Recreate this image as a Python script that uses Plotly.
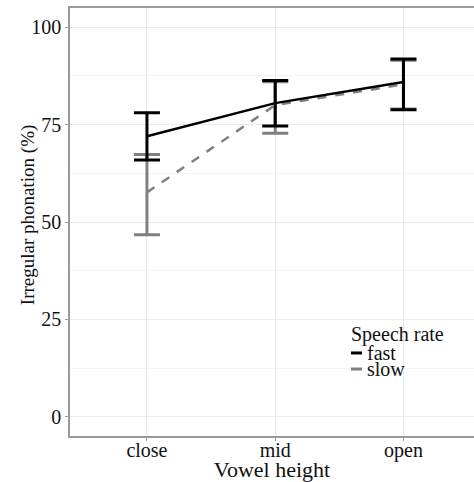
import plotly.graph_objects as go

categories = ["close", "mid", "open"]
fast_mean = [72.0, 80.5, 85.9]
fast_upper = [78.0, 86.3, 91.8]
fast_lower = [65.9, 74.6, 78.8]
slow_mean = [57.6, 80.0, 85.3]
slow_upper = [67.3, 86.0, 91.5]
slow_lower = [46.7, 72.8, 79.0]
y_ticks = [0, 25, 50, 75, 100]
legend_title = "Speech rate"
legend_labels = ["fast", "slow"]
y_title = "Irregular phonation (%)"
x_title = "Vowel height"

BLACK = "#000000"
GRAY = "#808080"
TEXT = "#111111"
FONT = "Liberation Serif"

fig = go.Figure()

def add_series(name, mean, upper, lower, color, dash):
    fig.add_trace(go.Scatter(
        x=categories, y=mean, mode="markers", marker=dict(size=0.1, color=color),
        error_y=dict(type="data", symmetric=False,
                     array=[u - m for u, m in zip(upper, mean)],
                     arrayminus=[m - l for m, l in zip(mean, lower)],
                     color=color, thickness=3, width=13),
        showlegend=False, hoverinfo="skip"))
    fig.add_trace(go.Scatter(
        x=categories, y=mean, mode="lines", name=name, showlegend=False,
        line=dict(color=color, width=2.5, dash=dash)))

add_series("slow", slow_mean, slow_upper, slow_lower, GRAY, "dash")
add_series("fast", fast_mean, fast_upper, fast_lower, BLACK, "solid")

# legend drawn ggplot-style (compact keys)
annotations = [
    dict(text=legend_title, x=0.690, y=0.236, xref="paper", yref="paper",
         xanchor="left", yanchor="middle", showarrow=False,
         font=dict(family=FONT, size=20, color=TEXT)),
    dict(text=y_title, x=-0.104, y=0.516, xref="paper", yref="paper",
         xanchor="center", yanchor="middle", textangle=-90, showarrow=False,
         font=dict(family=FONT, size=19, color=TEXT)),
]
shapes = []
for i, (lab, col) in enumerate(zip(legend_labels, [BLACK, GRAY])):
    yc = 0.194 - i * 0.0375
    annotations.append(dict(text=lab, x=0.731, y=yc, xref="paper", yref="paper",
                            xanchor="left", yanchor="middle", showarrow=False,
                            font=dict(family=FONT, size=20, color=TEXT)))
    shapes.append(dict(type="line", xref="paper", yref="paper",
                       x0=0.6955, x1=0.7228, y0=yc, y1=yc,
                       line=dict(color=col, width=3)))

fig.update_layout(
    width=474, height=482,
    margin=dict(l=70, r=0, t=8, b=46),
    paper_bgcolor="white", plot_bgcolor="white",
    font=dict(family=FONT, size=20, color=TEXT),
    showlegend=False,
    annotations=annotations, shapes=shapes,
)
fig.update_xaxes(
    type="category", categoryorder="array", categoryarray=categories,
    range=[-0.6, 2.55], automargin=False,
    showgrid=True, gridcolor="#ebebeb", gridwidth=1,
    showline=True, linecolor="#9a9a9a", linewidth=1.5, mirror=True,
    ticks="outside", ticklen=3, tickcolor="#9a9a9a",
    ticklabelstandoff=-8,
    tickfont=dict(family=FONT, size=20, color=TEXT),
    title=dict(text=x_title, font=dict(family=FONT, size=22, color=TEXT), standoff=0),
    zeroline=False)
fig.update_yaxes(
    range=[-4.9, 104.9], tickvals=y_ticks, automargin=False,
    showgrid=True, gridcolor="#ebebeb", gridwidth=1,
    minor=dict(tickvals=[12.5, 37.5, 62.5, 87.5], showgrid=True, gridcolor="#f4f4f4", gridwidth=1),
    showline=True, linecolor="#9a9a9a", linewidth=1.5, mirror=True,
    ticks="outside", ticklen=3, tickcolor="#9a9a9a",
    tickfont=dict(family=FONT, size=20, color=TEXT),
    zeroline=False)

fig.write_html("out.html", config={"displayModeBar": False},
               post_script="document.body.style.margin='0';")
